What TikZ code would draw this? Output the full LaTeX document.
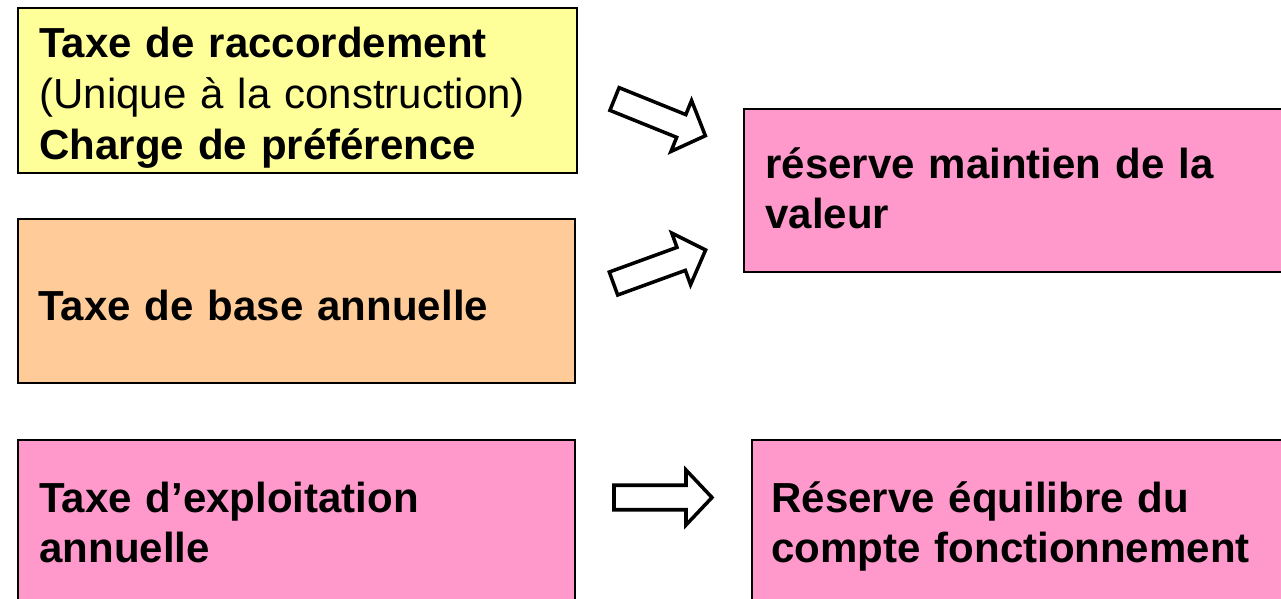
\documentclass[tikz,border=0pt]{standalone}
\usepackage{fontspec}
\setmainfont{Liberation Sans}
\usetikzlibrary{positioning}

\definecolor{jaune}{HTML}{FFFF99}
\definecolor{orange}{HTML}{FFCC99}
\definecolor{rose}{HTML}{FF99CC}

\tikzset{
	boite/.style={draw=black, line width=1.2pt, anchor=north west, inner sep=0pt},
	texte/.style={anchor=base west, inner sep=0pt, text width=10.5cm, align=left,
		font=\fontsize{23.9}{28.8}\selectfont\bfseries},
	fleche/.pic={
		\draw [line width=2pt, fill=white, line join=miter]
			(0,0.245) -- (1.44,0.245) -- (1.44,0.55) -- (1.96,0)
			-- (1.44,-0.55) -- (1.44,-0.245) -- (0,-0.245) -- cycle;
	}
}

\begin{document}
\begin{tikzpicture}
	\useasboundingbox (0,0) rectangle (25.62,-11.98);
	\clip (0,0) rectangle (25.62,-11.98);

	% boites de gauche
	\node [boite, fill=jaune, minimum width=11.18cm, minimum height=3.30cm] (raccord) at (0.34,-0.14) {};
	\node [boite, fill=orange, minimum width=11.14cm, minimum height=3.28cm] (base) at (0.34,-4.36) {};
	\node [boite, fill=rose, minimum width=11.14cm, minimum height=3.5cm] (exploit) at (0.34,-8.78) {};

	% boites de droite
	\node [boite, fill=rose, minimum width=11cm, minimum height=3.26cm] (maintien) at (14.86,-2.16) {};
	\node [boite, fill=rose, minimum width=11cm, minimum height=3.5cm] (equilibre) at (15.02,-8.78) {};

	% textes
	\node [texte] (traccord) at (0.78,-1.16) {Taxe de raccordement\\
		{\mdseries (Unique à la construction)}\\
		Charge de préférence};
	\node [texte] (tbase) at (0.76,-6.40) {Taxe de base annuelle};
	\node [texte] (texploit) at (0.78,-10.24) {Taxe d’exploitation\\ annuelle};
	\node [texte] (tmaintien) at (15.30,-3.56) {réserve maintien de la\\ valeur};
	\node [texte] (tequilibre) at (15.42,-10.24) {Réserve équilibre du\\ compte fonctionnement};

	% fleches
	\pic [rotate=-22] at (12.29,-1.98) {fleche};
	\pic [rotate=20] at (12.27,-5.67) {fleche};
	\pic at (12.28,-9.95) {fleche};
\end{tikzpicture}
\end{document}
